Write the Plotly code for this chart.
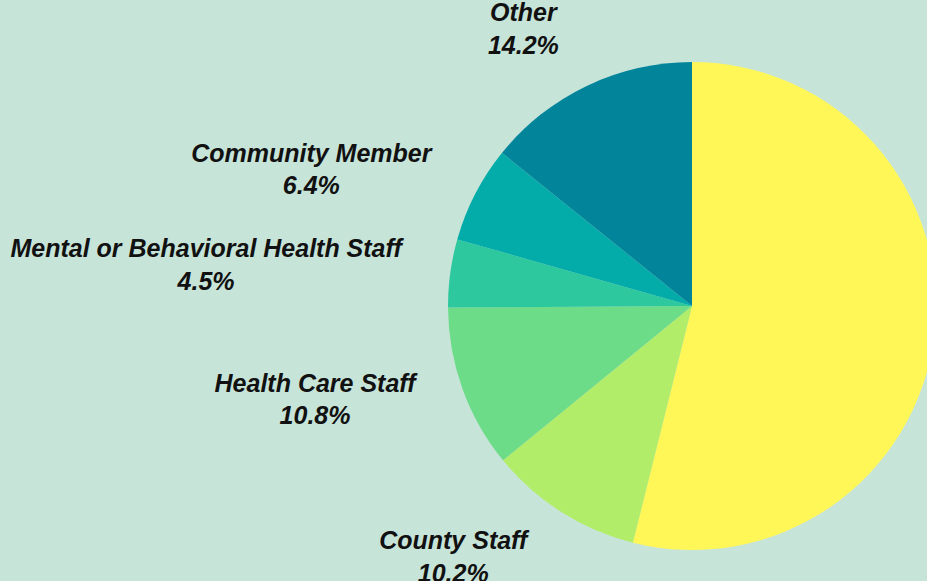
import plotly.graph_objects as go

labels = ["School Staff", "County Staff", "Health Care Staff",
          "Mental or Behavioral Health Staff", "Community Member", "Other"]
values = [53.9, 10.2, 10.8, 4.5, 6.4, 14.2]
colors = ["#fff757", "#b2ed6a", "#6ddc88", "#2dc89e", "#03aca8", "#02849b"]

W, H = 1150, 581
CX, CY = 692, 306          # visible pie centre (px)
R_IN = 244                 # visible pie radius
LX, LY, R_OUT = 693, 302, 276   # label ring centre / radius


def dom(cx, cy, r):
    return dict(x=[(cx - r) / W, (cx + r) / W],
                y=[(H - cy - r) / H, (H - cy + r) / H])


common = dict(labels=labels, values=values, sort=False,
              direction="clockwise", rotation=0, showlegend=False,
              automargin=False)

# visible pie (no text)
fig = go.Figure(go.Pie(
    **common,
    marker=dict(colors=colors, line=dict(width=0)),
    textinfo="none",
    hoverinfo="label+percent",
    domain=dom(CX, CY, R_IN),
))

# transparent ring carrying the outside labels
fig.add_trace(go.Pie(
    **common,
    marker=dict(colors=["rgba(0,0,0,0)"] * len(values), line=dict(width=0)),
    textposition="outside",
    texttemplate="%{label}<br>%{percent:.1%}",
    textfont=dict(family="Liberation Sans, Arial, sans-serif", size=25,
                  color="#111111", weight="bold", style="italic"),
    hoverinfo="skip",
    domain=dom(LX, LY, R_OUT),
))

fig.update_layout(
    width=W, height=H,
    margin=dict(l=0, r=0, t=0, b=0, autoexpand=False),
    paper_bgcolor="#c7e4d9",
    plot_bgcolor="#c7e4d9",
)

fig.write_html("out.html",
               post_script="document.body.style.margin='0';document.body.style.overflow='hidden';document.documentElement.style.overflow='hidden';")
